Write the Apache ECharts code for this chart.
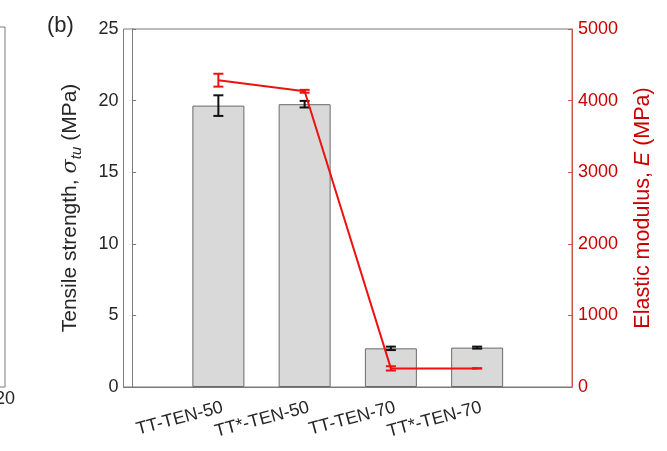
<!DOCTYPE html>
<html>
<head>
<meta charset="utf-8">
<script src="https://cdn.jsdelivr.net/npm/echarts@6/dist/echarts.min.js"></script>
<style>html,body{margin:0;padding:0;background:#fff}#c{width:667px;height:451px}</style>
</head>
<body>
<div id="c"></div>
<script>
// ---- data ----
var categories = ['TT-TEN-50', 'TT*-TEN-50', 'TT-TEN-70', 'TT*-TEN-70'];
var positions = [1, 2, 3, 4];
var strength = [19.65, 19.75, 2.70, 2.75];        // MPa (bars, left axis)
var strengthErr = [0.72, 0.23, 0.12, 0.07];
var modulus = [4285, 4130, 260, 260];              // MPa (line, right axis)
var modulusErr = [90, 20, 30, 0];
var leftTicks = [0, 5, 10, 15, 20, 25];
var rightTicks = [0, 1000, 2000, 3000, 4000, 5000];

var FONT = "'Liberation Sans', Arial, Helvetica, sans-serif";
var INK = '#262626';
var RED_TXT = '#c80000';
var RED_LINE = '#ee1111';
var LABEL_SHIFT = 0.05; // rotated labels are anchored a little right of the tick

function pairs(xs, ys) { return xs.map(function (x, i) { return [x, ys[i]]; }); }
function errData(xs, ys, es) { return xs.map(function (x, i) { return [x, ys[i] - es[i], ys[i] + es[i]]; }); }
function errRender(color, width) {
  return function (params, api) {
    var x = api.value(0);
    var lo = api.coord([x, api.value(1)]);
    var hi = api.coord([x, api.value(2)]);
    var hw = 5;
    var st = { stroke: color, lineWidth: width };
    return {
      type: 'group',
      children: [
        { type: 'line', shape: { x1: lo[0], y1: lo[1], x2: hi[0], y2: hi[1] }, style: st },
        { type: 'line', shape: { x1: lo[0] - hw, y1: lo[1], x2: lo[0] + hw, y2: lo[1] }, style: st },
        { type: 'line', shape: { x1: hi[0] - hw, y1: hi[1], x2: hi[0] + hw, y2: hi[1] }, style: st }
      ]
    };
  };
}

var chart = echarts.init(document.getElementById('c'), null, { renderer: 'canvas' });
chart.setOption({
  animation: false,
  backgroundColor: '#fff',
  textStyle: { fontFamily: FONT },
  title: {
    text: '(b)', left: 42, top: 10,
    textStyle: { fontFamily: FONT, fontSize: 22, fontWeight: 'normal', color: INK }
  },
  grid: [
    { left: 123.5, right: 95, top: 29, bottom: 64, show: true, borderColor: '#7a7a7a', borderWidth: 1,
      backgroundColor: 'transparent', outerBoundsMode: 'none', containLabel: false },
    { left: -95, width: 100, top: 27, bottom: 64, show: true, borderColor: '#7a7a7a', borderWidth: 1,
      backgroundColor: 'transparent', outerBoundsMode: 'none', containLabel: false }
  ],
  xAxis: [
    {
      type: 'value', gridIndex: 0, min: -0.1, max: 5.1,
      splitLine: { show: false },
      axisLine: { show: true, lineStyle: { color: '#7a7a7a', width: 1 } },
      axisTick: { show: true, inside: true, length: 4, customValues: positions, lineStyle: { color: '#aaaaaa' } },
      axisLabel: {
        customValues: positions.map(function (p) { return p + LABEL_SHIFT; }),
        rotate: 15, margin: 20, fontSize: 18, color: INK, fontFamily: FONT,
        formatter: function (v) { var i = positions.indexOf(Math.round(v)); return i >= 0 ? categories[i] : ''; }
      }
    },
    {
      type: 'value', gridIndex: 1, min: 0, max: 20,
      splitLine: { show: false },
      axisLine: { show: false },
      axisTick: { show: false },
      axisLabel: { customValues: [20], fontSize: 18, color: INK, fontFamily: FONT, margin: 3 }
    }
  ],
  yAxis: [
    {
      type: 'value', gridIndex: 0, min: 0, max: 25, interval: 5, position: 'left',
      splitLine: { show: false },
      axisLine: { show: true, lineStyle: { color: '#7a7a7a', width: 1 } },
      axisTick: { show: true, inside: true, length: 4, lineStyle: { color: '#7a7a7a' } },
      axisLabel: { fontSize: 18, color: INK, margin: 5, fontFamily: FONT,
        customValues: leftTicks },
      name: '{n|Tensile strength, }{i|σ}{s|tu}{n| (MPa)}',
      nameLocation: 'middle', nameGap: 39, nameRotate: 90,
      nameTextStyle: {
        fontFamily: FONT, color: INK,
        rich: {
          n: { fontSize: 21, lineHeight: 28, color: INK, fontFamily: FONT },
          i: { fontSize: 21, lineHeight: 28, color: INK, fontStyle: 'italic', fontFamily: 'DejaVu Serif, serif' },
          s: { fontSize: 15, lineHeight: 15, color: INK, fontStyle: 'italic', verticalAlign: 'bottom', fontFamily: FONT }
        }
      }
    },
    {
      type: 'value', gridIndex: 0, min: 0, max: 5000, interval: 1000, position: 'right',
      splitLine: { show: false },
      axisLine: { show: true, lineStyle: { color: '#d05050', width: 1 } },
      axisTick: { show: true, inside: true, length: 4, lineStyle: { color: '#d05050' } },
      axisLabel: { fontSize: 18, color: RED_TXT, margin: 6, fontFamily: FONT, customValues: rightTicks,
        formatter: function (v) { return String(v); } },
      name: '{n|Elastic modulus, }{i|E}{n| (MPa)}',
      nameLocation: 'middle', nameGap: 60, nameRotate: 90,
      nameTextStyle: {
        fontFamily: FONT, color: RED_TXT,
        rich: {
          n: { fontSize: 21.5, color: RED_TXT, fontFamily: FONT },
          i: { fontSize: 21.5, color: RED_TXT, fontStyle: 'italic', fontFamily: FONT }
        }
      }
    },
    {
      type: 'value', gridIndex: 1, min: 0, max: 25, interval: 5, position: 'right',
      splitLine: { show: false },
      axisLine: { show: false },
      axisTick: { show: true, inside: true, length: 4, lineStyle: { color: '#7a7a7a' } },
      axisLabel: { show: false }
    }
  ],
  series: [
    {
      type: 'bar', xAxisIndex: 0, yAxisIndex: 0, barWidth: 52,
      data: pairs(positions, strength),
      itemStyle: { color: '#d9d9d9', borderColor: '#6b6b6b', borderWidth: 1 },
      z: 2
    },
    {
      type: 'custom', xAxisIndex: 0, yAxisIndex: 0,
      data: errData(positions, strength, strengthErr),
      renderItem: errRender('#111111', 2), z: 3
    },
    {
      type: 'line', xAxisIndex: 0, yAxisIndex: 1,
      data: pairs(positions, modulus),
      symbol: 'none', lineStyle: { color: RED_LINE, width: 2 }, z: 4
    },
    {
      type: 'custom', xAxisIndex: 0, yAxisIndex: 1,
      data: errData(positions, modulus, modulusErr),
      renderItem: errRender(RED_LINE, 2), z: 5
    }
  ]
});
</script>
</body>
</html>
